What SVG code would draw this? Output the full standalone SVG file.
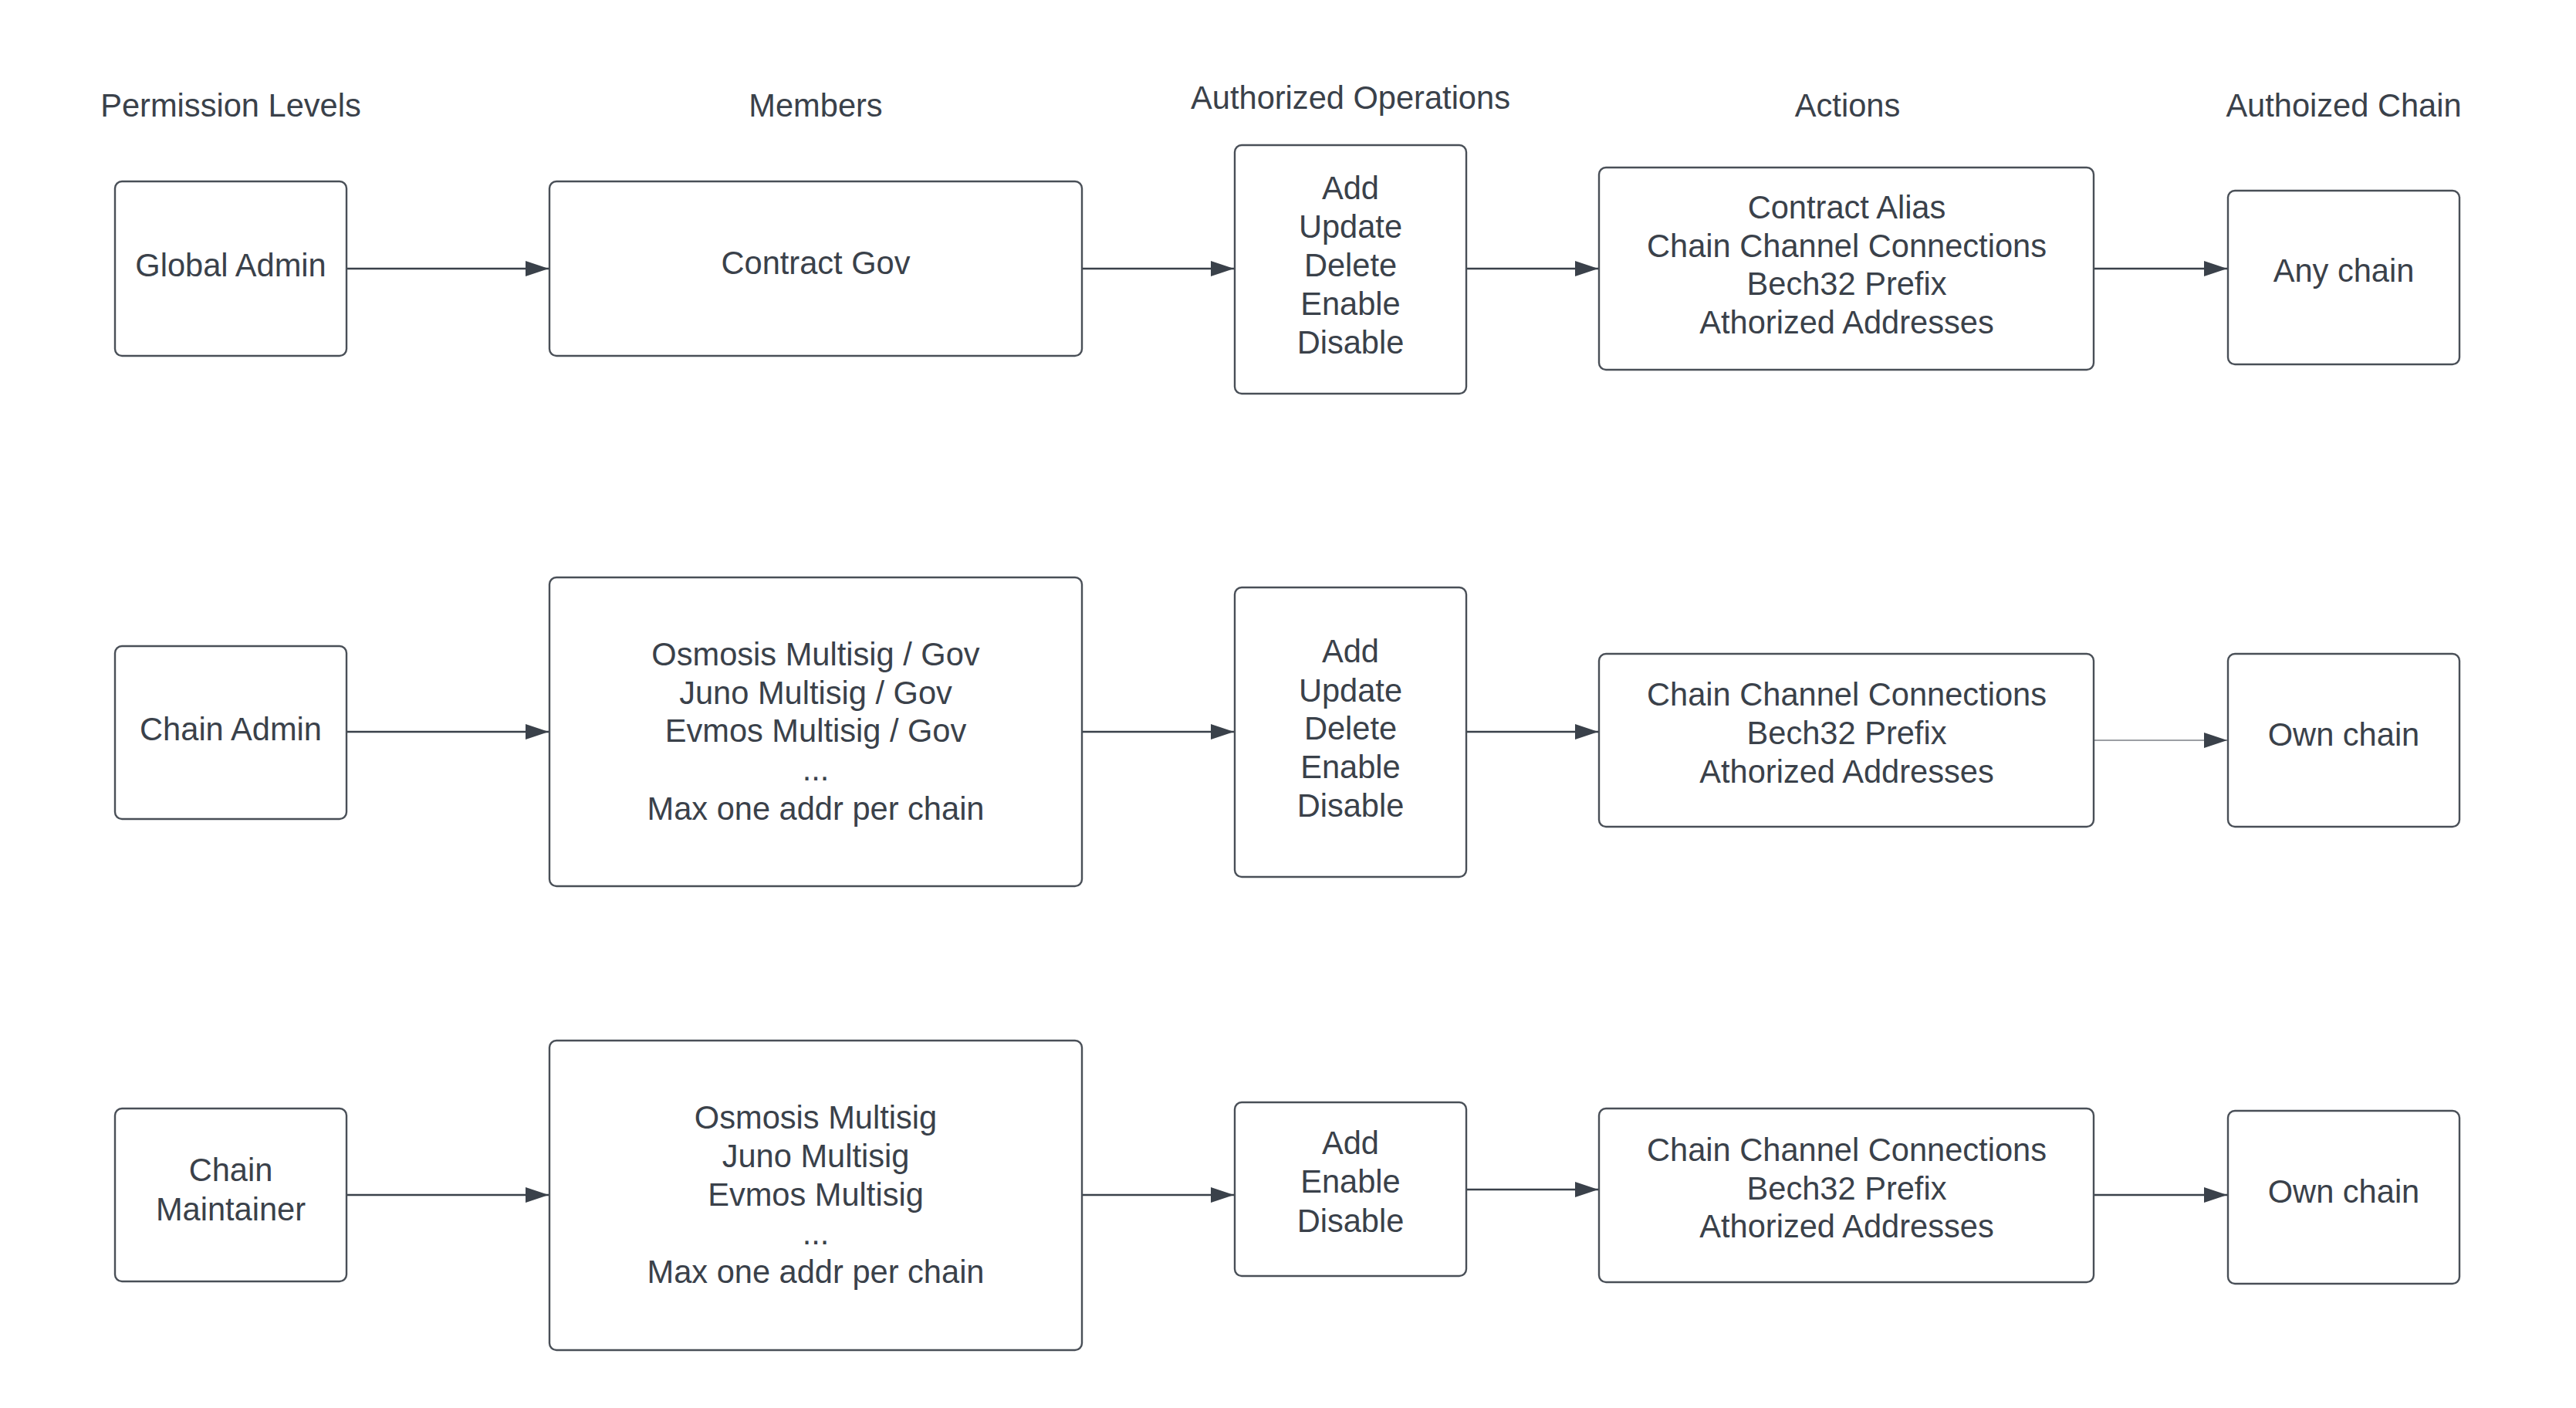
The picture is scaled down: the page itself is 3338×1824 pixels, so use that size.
<svg xmlns="http://www.w3.org/2000/svg" width="3338" height="1824" viewBox="0 0 3338 1824">
<style>
.bx{fill:#ffffff;stroke:#494f57;stroke-width:2.4}
.t{font-family:"Liberation Sans",Arial,sans-serif;font-size:41.6px;fill:#3a414a;text-anchor:middle}
.c{stroke:#3a414a;stroke-width:2.4;fill:none}
.thin{stroke-width:1.2}
</style>
<defs>
<marker id="ah" markerUnits="userSpaceOnUse" markerWidth="31" markerHeight="21" refX="30" refY="10" orient="auto">
<path d="M0,0 L30,10 L0,20 Z" fill="#3a414a"/>
</marker>
</defs>
<rect width="3338" height="1824" fill="#ffffff"/>
<g id="headers" transform="translate(0,-2)">
<text class="t" x="299" y="153">Permission Levels</text>
<text class="t" x="1057" y="153">Members</text>
<text class="t" x="1750" y="143">Authorized Operations</text>
<text class="t" x="2394" y="153">Actions</text>
<text class="t" x="3037" y="153">Authoized Chain</text>
</g>
<g id="connectors">
<line class="c" x1="450" y1="348" x2="711" y2="348" marker-end="url(#ah)"/>
<line class="c" x1="1403" y1="348" x2="1599" y2="348" marker-end="url(#ah)"/>
<line class="c" x1="1901" y1="348" x2="2071" y2="348" marker-end="url(#ah)"/>
<line class="c" x1="2714" y1="348" x2="2886" y2="348" marker-end="url(#ah)"/>
<line class="c" x1="450" y1="948" x2="711" y2="948" marker-end="url(#ah)"/>
<line class="c" x1="1403" y1="948" x2="1599" y2="948" marker-end="url(#ah)"/>
<line class="c" x1="1901" y1="948" x2="2071" y2="948" marker-end="url(#ah)"/>
<line class="c thin" x1="2714" y1="959" x2="2886" y2="959" marker-end="url(#ah)"/>
<line class="c" x1="450" y1="1548" x2="711" y2="1548" marker-end="url(#ah)"/>
<line class="c" x1="1403" y1="1548" x2="1599" y2="1548" marker-end="url(#ah)"/>
<line class="c" x1="1901" y1="1541" x2="2071" y2="1541" marker-end="url(#ah)"/>
<line class="c" x1="2714" y1="1548" x2="2886" y2="1548" marker-end="url(#ah)"/>
</g>
<g id="global-admin">
<rect class="bx" x="149" y="235" width="300" height="226" rx="9"/>
<text class="t" x="299" y="358">Global Admin</text>
</g>
<g id="contract-gov">
<rect class="bx" x="712" y="235" width="690" height="226" rx="9"/>
<text class="t" x="1057" y="355">Contract Gov</text>
</g>
<g id="ops-global">
<rect class="bx" x="1600" y="188" width="300" height="322" rx="9"/>
<text class="t" x="1750" y="258">Add</text>
<text class="t" x="1750" y="308">Update</text>
<text class="t" x="1750" y="358">Delete</text>
<text class="t" x="1750" y="408">Enable</text>
<text class="t" x="1750" y="458">Disable</text>
</g>
<g id="actions-global">
<rect class="bx" x="2072" y="217" width="641" height="262" rx="9"/>
<text class="t" x="2393" y="283">Contract Alias</text>
<text class="t" x="2393" y="333">Chain Channel Connections</text>
<text class="t" x="2393" y="382">Bech32 Prefix</text>
<text class="t" x="2393" y="432">Athorized Addresses</text>
</g>
<g id="any-chain">
<rect class="bx" x="2887" y="247" width="300" height="225" rx="9"/>
<text class="t" x="3037" y="365">Any chain</text>
</g>
<g id="chain-admin">
<rect class="bx" x="149" y="837" width="300" height="224" rx="9"/>
<text class="t" x="299" y="959">Chain Admin</text>
</g>
<g id="members-admin">
<rect class="bx" x="712" y="748" width="690" height="400" rx="9"/>
<text class="t" x="1057" y="862">Osmosis Multisig / Gov</text>
<text class="t" x="1057" y="912">Juno Multisig / Gov</text>
<text class="t" x="1057" y="961">Evmos Multisig / Gov</text>
<text class="t" x="1057" y="1011">...</text>
<text class="t" x="1057" y="1062">Max one addr per chain</text>
</g>
<g id="ops-admin">
<rect class="bx" x="1600" y="761" width="300" height="375" rx="9"/>
<text class="t" x="1750" y="858">Add</text>
<text class="t" x="1750" y="909">Update</text>
<text class="t" x="1750" y="958">Delete</text>
<text class="t" x="1750" y="1008">Enable</text>
<text class="t" x="1750" y="1058">Disable</text>
</g>
<g id="actions-admin">
<rect class="bx" x="2072" y="847" width="641" height="224" rx="9"/>
<text class="t" x="2393" y="914">Chain Channel Connections</text>
<text class="t" x="2393" y="964">Bech32 Prefix</text>
<text class="t" x="2393" y="1014">Athorized Addresses</text>
</g>
<g id="own-chain-admin">
<rect class="bx" x="2887" y="847" width="300" height="224" rx="9"/>
<text class="t" x="3037" y="966">Own chain</text>
</g>
<g id="chain-maintainer">
<rect class="bx" x="149" y="1436" width="300" height="224" rx="9"/>
<text class="t" x="299" y="1530">Chain</text>
<text class="t" x="299" y="1581">Maintainer</text>
</g>
<g id="members-maintainer">
<rect class="bx" x="712" y="1348" width="690" height="401" rx="9"/>
<text class="t" x="1057" y="1462">Osmosis Multisig</text>
<text class="t" x="1057" y="1512">Juno Multisig</text>
<text class="t" x="1057" y="1562">Evmos Multisig</text>
<text class="t" x="1057" y="1612">...</text>
<text class="t" x="1057" y="1662">Max one addr per chain</text>
</g>
<g id="ops-maintainer">
<rect class="bx" x="1600" y="1428" width="300" height="225" rx="9"/>
<text class="t" x="1750" y="1495">Add</text>
<text class="t" x="1750" y="1545">Enable</text>
<text class="t" x="1750" y="1596">Disable</text>
</g>
<g id="actions-maintainer">
<rect class="bx" x="2072" y="1436" width="641" height="225" rx="9"/>
<text class="t" x="2393" y="1504">Chain Channel Connections</text>
<text class="t" x="2393" y="1554">Bech32 Prefix</text>
<text class="t" x="2393" y="1603">Athorized Addresses</text>
</g>
<g id="own-chain-maintainer">
<rect class="bx" x="2887" y="1439" width="300" height="224" rx="9"/>
<text class="t" x="3037" y="1558">Own chain</text>
</g>
</svg>
